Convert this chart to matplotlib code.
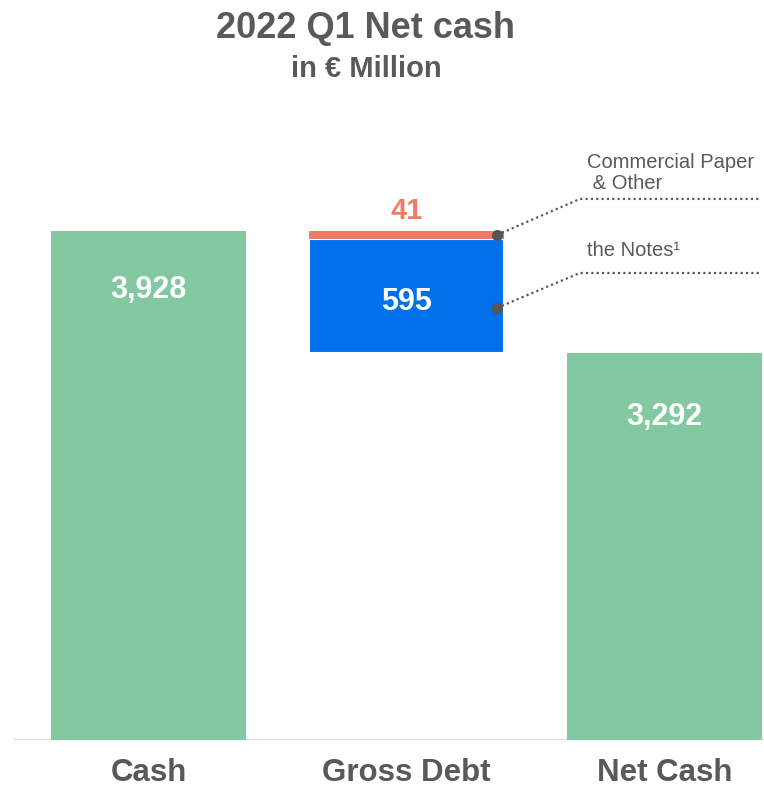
import matplotlib
matplotlib.use("Agg")
import matplotlib.pyplot as plt
import matplotlib.transforms as mtransforms

plt.rcParams['font.family'] = ['Liberation Sans', 'DejaVu Sans']

# Waterfall data (EUR million)
categories = ["Cash", "Gross Debt", "Net Cash"]
cash = 3928
notes = 595
commercial_paper = 41
net_cash = 3292
value_labels = ["3,928", "595", "41", "3,292"]

GREEN = "#82C8A0"
BLUE = "#0070EB"
RED = "#F07B69"
GREY = "#595959"

fig = plt.figure(figsize=(7.64, 7.90), dpi=100)
ax = fig.add_axes([13 / 764, 50 / 790, 1 - 13 / 764, 640 / 790])
ax.set_xlim(-0.525, 2.386)
ax.set_ylim(1274, 4611)
ax.axis("off")

width = 0.756
x = [0, 1, 2]

# baseline
ax.axhline(1274, color="#D9D9D9", lw=2, zorder=1)

ax.bar(x[0], cash, width=width, color=GREEN, zorder=2)
ax.bar(x[2], net_cash, width=width, color=GREEN, zorder=2)
ax.bar(x[1], notes, bottom=net_cash, width=width, color=BLUE,
       edgecolor="white", linewidth=1.5, zorder=2)
ax.bar(x[1], commercial_paper, bottom=net_cash + notes, width=width,
       color=RED, zorder=2)

# value labels
ax.text(x[0], cash - 310, value_labels[0], ha="center", va="center",
        color="white", fontsize=22, fontweight="bold", zorder=3)
ax.text(x[1], net_cash + notes / 2 - 30, value_labels[1], ha="center", va="center",
        color="white", fontsize=22, fontweight="bold", zorder=3)
ax.text(x[1], cash + 105, value_labels[2], ha="center", va="center",
        color=RED, fontsize=21, fontweight="bold", zorder=3)
ax.text(x[2], net_cash - 335, value_labels[3], ha="center", va="center",
        color="white", fontsize=22, fontweight="bold", zorder=3)

# leader lines to the debt components
dot_x = x[1] + width / 2 - 0.027
elbow_x = 1.672
end_x = 2.37
cp_y = net_cash + notes + commercial_paper / 2
notes_y = net_cash + 235
for y0, y1 in [(cp_y, 4095), (notes_y, 3709)]:
    ax.plot([dot_x, elbow_x, end_x], [y0, y1, y1], color=GREY, lw=1.6,
            linestyle=(0, (1, 1.4)), zorder=3)
    ax.plot(dot_x, y0, "o", color="#555555", ms=7, zorder=4)

ax.text(1.700, 4232, "Commercial Paper\n & Other", ha="left", va="center",
        color=GREY, fontsize=14.5, linespacing=1.15)
ax.text(1.700, 3825, "the Notes¹", ha="left", va="center",
        color=GREY, fontsize=14.5)

# category labels below the baseline
trans = mtransforms.blended_transform_factory(ax.transData, fig.transFigure)
for xi, name in zip(x, categories):
    ax.text(xi, 1 - 773 / 790, name, transform=trans, ha="center", va="center",
            color=GREY, fontsize=22.5, fontweight="bold")

fig.text(366 / 764, 1 - 28 / 790, "2022 Q1 Net cash", ha="center", va="center",
         color=GREY, fontsize=26, fontweight="bold")
fig.text(366 / 764, 1 - 69 / 790, "in € Million", ha="center", va="center",
         color=GREY, fontsize=21, fontweight="bold")

fig.savefig("out.png", dpi=100, facecolor="white")
